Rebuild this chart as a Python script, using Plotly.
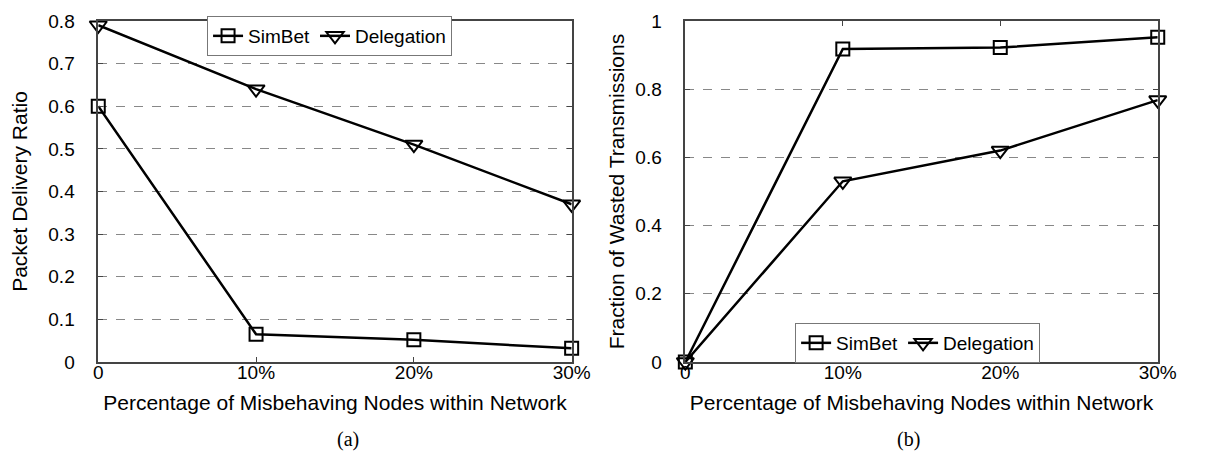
import plotly.graph_objects as go

x_vals = [0, 10, 20, 30]
x_ticktext = ["0", "10%", "20%", "30%"]

# (a) Packet Delivery Ratio
pdr_simbet = [0.60, 0.065, 0.052, 0.032]
pdr_delegation = [0.79, 0.64, 0.51, 0.37]

# (b) Fraction of Wasted Transmissions
fwt_simbet = [0.0, 0.918, 0.922, 0.952]
fwt_delegation = [0.0, 0.53, 0.62, 0.768]

y_a_ticks = [0, 0.1, 0.2, 0.3, 0.4, 0.5, 0.6, 0.7, 0.8]
y_a_text = ["0", "0.1", "0.2", "0.3", "0.4", "0.5", "0.6", "0.7", "0.8"]
y_b_ticks = [0, 0.2, 0.4, 0.6, 0.8, 1.0]
y_b_text = ["0", "0.2", "0.4", "0.6", "0.8", "1"]

FONT = "Liberation Sans, Arial, sans-serif"
W, H = 1205, 457

fig = go.Figure()

def add_series(xa, ya, y, name, symbol, size):
    fig.add_trace(go.Scatter(
        x=x_vals, y=y, mode="lines+markers", name=name,
        xaxis=xa, yaxis=ya, showlegend=True,
        legend="legend" if xa == "x" else "legend2",
        line=dict(color="black", width=2.5),
        marker=dict(symbol=symbol, size=size, color="black",
                    line=dict(color="black", width=2)),
        cliponaxis=False,
    ))

add_series("x", "y", pdr_simbet, "SimBet", "square-open", 13)
add_series("x", "y", pdr_delegation, "Delegation", "triangle-down-open", 15)
add_series("x2", "y2", fwt_simbet, "SimBet", "square-open", 13)
add_series("x2", "y2", fwt_delegation, "Delegation", "triangle-down-open", 15)

axis_common = dict(
    showline=True, linecolor="#444", linewidth=1.5, mirror="ticks",
    ticks="inside", ticklen=5, tickcolor="#444",
    tickfont=dict(family=FONT, size=19, color="black"),
    zeroline=False,
)

xl0, xl1 = 87 / W, 570 / W
xr0, xr1 = 686 / W, 1168 / W
TITLE_FONT = dict(family=FONT, size=21, color="black")

xcommon = dict(range=[0, 30], tickvals=x_vals, ticktext=x_ticktext, showgrid=False,
               ticklabelstandoff=-8,
               title=dict(text="Percentage of Misbehaving Nodes within Network",
                          font=TITLE_FONT, standoff=14))

fig.update_layout(
    width=W, height=H,
    paper_bgcolor="white", plot_bgcolor="white",
    margin=dict(l=0, r=0, t=13, b=103),
    font=dict(family=FONT, color="black"),
    xaxis=dict(domain=[xl0, xl1], anchor="y", **xcommon, **axis_common),
    yaxis=dict(domain=[0, 1], range=[0, 0.8], tickvals=y_a_ticks, ticktext=y_a_text,
               showgrid=True, gridcolor="#888", griddash="dash", gridwidth=1, anchor="x",
               ticklabelstandoff=18,
               title=dict(text="Packet Delivery Ratio", font=TITLE_FONT, standoff=16),
               **axis_common),
    xaxis2=dict(domain=[xr0, xr1], anchor="y2", **xcommon, **axis_common),
    yaxis2=dict(domain=[0, 1], range=[0, 1], tickvals=y_b_ticks, ticktext=y_b_text,
                showgrid=True, gridcolor="#888", griddash="dash", gridwidth=1, anchor="x2",
                ticklabelstandoff=18,
                title=dict(text="Fraction of Wasted Transmissions", font=TITLE_FONT, standoff=5),
                **axis_common),
    legend=dict(orientation="h", x=198 / W, y=1 + 5 / 341, xref="paper", yref="paper",
                xanchor="left", yanchor="top",
                bgcolor="white", bordercolor="#777", borderwidth=1,
                font=dict(family=FONT, size=19, color="black"),
                itemwidth=30, tracegroupgap=0),
    legend2=dict(orientation="h", x=798 / W, y=(354 - 315) / 341, xref="paper", yref="paper",
                 xanchor="left", yanchor="top",
                 bgcolor="white", bordercolor="#777", borderwidth=1,
                 font=dict(family=FONT, size=19, color="black"),
                 itemwidth=30, tracegroupgap=0),
    showlegend=True,
)

fig.add_annotation(text="(a)", x=(xl0 + xl1) / 2, y=(354 - 445) / 341, xref="paper", yref="paper",
                   showarrow=False, font=dict(family="Liberation Serif, Times New Roman, serif", size=20))
fig.add_annotation(text="(b)", x=(xr0 + xr1) / 2, y=(354 - 445) / 341, xref="paper", yref="paper",
                   showarrow=False, font=dict(family="Liberation Serif, Times New Roman, serif", size=20))

fig.write_html("out.html")
